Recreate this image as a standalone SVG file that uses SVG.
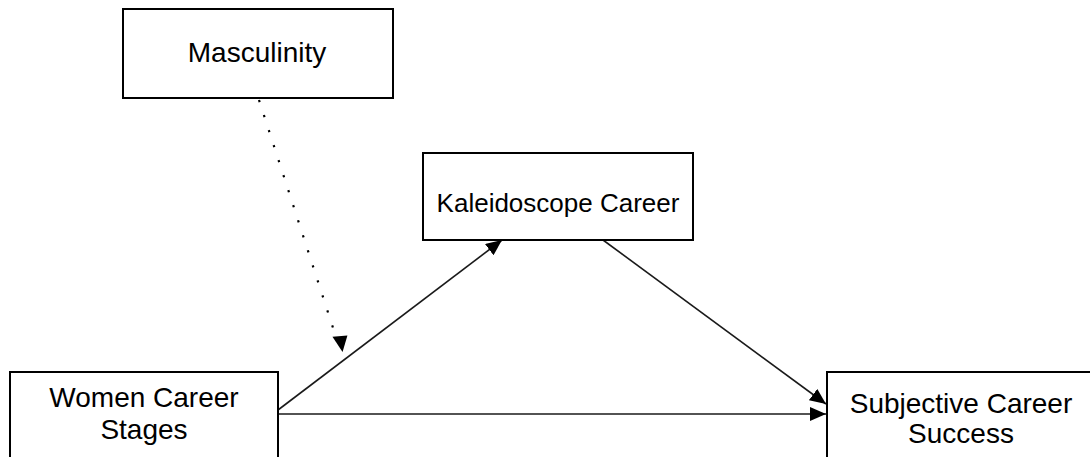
<svg xmlns="http://www.w3.org/2000/svg" width="1090" height="457" viewBox="0 0 1090 457">
<style>
.box{fill:#fff;stroke:#000;stroke-width:2}
.lbl{font-family:"Liberation Sans",Arial,sans-serif;font-size:28px;fill:#000;text-anchor:middle}
.ln{stroke:#1a1a1a;stroke-width:1.6;fill:none}
.dot{stroke:#000;stroke-width:2.2;fill:none;stroke-dasharray:2.2 13.6}
</style>
<defs>
<marker id="ah" markerUnits="userSpaceOnUse" markerWidth="18" markerHeight="14" refX="16" refY="7" orient="auto">
<path d="M0,0 L16,7 L0,14 Z" fill="#000"/>
</marker>
</defs>
<rect width="1090" height="457" fill="#fff"/>
<g id="connectors">
<path class="dot" d="M259,100 L335,334"/>
<path d="M333,336 L348,336 L342,352 Z" fill="#000" transform="rotate(-4 342 344)"/>
<path class="ln" d="M278,410 L502,240" marker-end="url(#ah)"/>
<path class="ln" d="M603,240 L826,404" marker-end="url(#ah)"/>
<path class="ln" d="M278,414 L826,414" marker-end="url(#ah)"/>
</g>
<g id="masculinity">
<rect class="box" x="123" y="9" width="270" height="89"/>
<text class="lbl" x="257" y="62">Masculinity</text>
</g>
<g id="kaleidoscope">
<rect class="box" x="423" y="153" width="270" height="87"/>
<text class="lbl" x="558" y="212" style="font-size:26px">Kaleidoscope Career</text>
</g>
<g id="women">
<rect class="box" x="10" y="372" width="268" height="100"/>
<text class="lbl" x="144" y="407">Women Career</text>
<text class="lbl" x="144" y="439">Stages</text>
</g>
<g id="subjective">
<rect class="box" x="827" y="372" width="280" height="100"/>
<text class="lbl" x="961" y="413">Subjective Career</text>
<text class="lbl" x="961" y="443">Success</text>
</g>
</svg>
